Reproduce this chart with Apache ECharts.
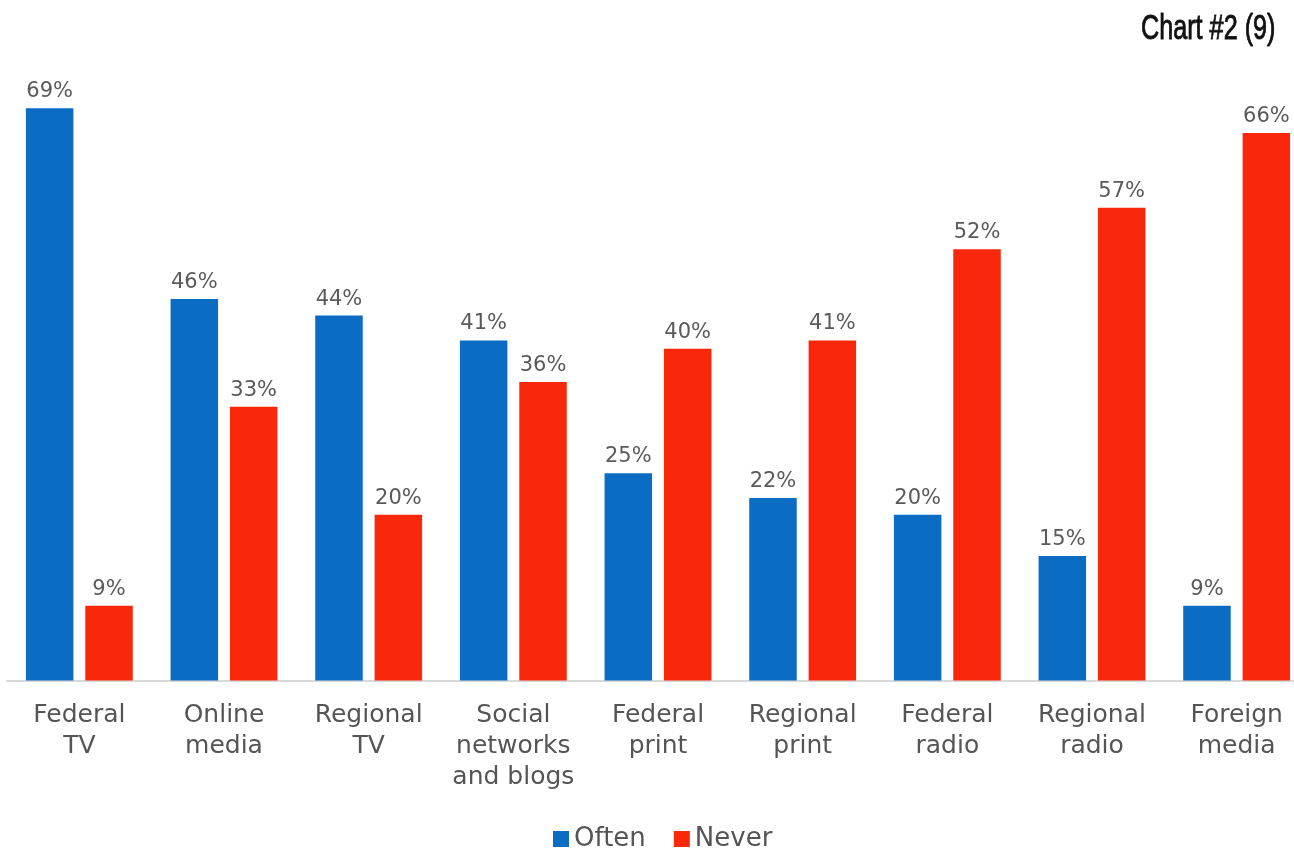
<!DOCTYPE html>
<html>
<head>
<meta charset="utf-8">
<title>Media use</title>
<script src="https://cdn.jsdelivr.net/npm/echarts@6/dist/echarts.min.js"></script>
<style>
  html, body { margin: 0; padding: 0; background: #ffffff; }
  #chart { width: 1294px; height: 849px; }
</style>
</head>
<body>
<div id="chart"></div>
<script>
// Media sources and how often respondents use them (share of respondents, %)
const categories = [
  'Federal\nTV', 'Online\nmedia', 'Regional\nTV', 'Social\nnetworks\nand blogs',
  'Federal\nprint', 'Regional\nprint', 'Federal\nradio', 'Regional\nradio', 'Foreign\nmedia'
];
const oftenValues = [69, 46, 44, 41, 25, 22, 20, 15, 9];
const neverValues = [9, 33, 20, 36, 40, 41, 52, 57, 66];
const seriesNames = ['Often', 'Never'];

const BLUE = '#0b6cc4';
const RED = '#f9280b';
const labelFont = 'DejaVu Sans';

const chart = echarts.init(document.getElementById('chart'), null, { renderer: 'canvas' });

const valueLabel = {
  show: true,
  position: 'top',
  distance: 6,
  formatter: p => p.value + '%',
  color: '#5a5a5a',
  fontFamily: labelFont,
  fontSize: 21
};

chart.setOption({
  backgroundColor: '#ffffff',
  animation: false,
  grid: {
    left: 7, top: 17, width: 1302, height: 663.5,
    containLabel: false,
    outerBoundsMode: 'none'
  },
  xAxis: {
    type: 'category',
    data: categories,
    axisLine: { show: true, lineStyle: { color: '#d9d9d9', width: 2 } },
    axisTick: { show: false },
    axisLabel: {
      interval: 0,
      margin: 19,
      color: '#555555',
      fontFamily: labelFont,
      fontSize: 25,
      lineHeight: 31
    }
  },
  yAxis: {
    type: 'value',
    min: 0,
    max: 80,
    show: false,
    splitLine: { show: false }
  },
  legend: {
    left: 548,
    top: 821,
    itemWidth: 16,
    itemHeight: 16,
    itemGap: 28,
    icon: 'rect',
    textStyle: { color: '#555555', fontFamily: labelFont, fontSize: 26 },
    data: seriesNames
  },
  graphic: [{
    type: 'text',
    x: 1141,
    y: 12,
    scaleX: 0.72,
    style: {
      text: 'Chart #2 (9)',
      font: '35px "Liberation Sans"',
      fill: '#111111',
      stroke: '#111111',
      lineWidth: 0.9
    }
  }],
  series: [
    {
      name: seriesNames[0],
      type: 'bar',
      data: oftenValues,
      barWidth: 47.5,
      barGap: '25%',
      itemStyle: { color: BLUE },
      label: valueLabel
    },
    {
      name: seriesNames[1],
      type: 'bar',
      data: neverValues,
      barWidth: 47.5,
      barGap: '25%',
      itemStyle: { color: RED },
      label: valueLabel
    }
  ]
});
</script>
</body>
</html>
